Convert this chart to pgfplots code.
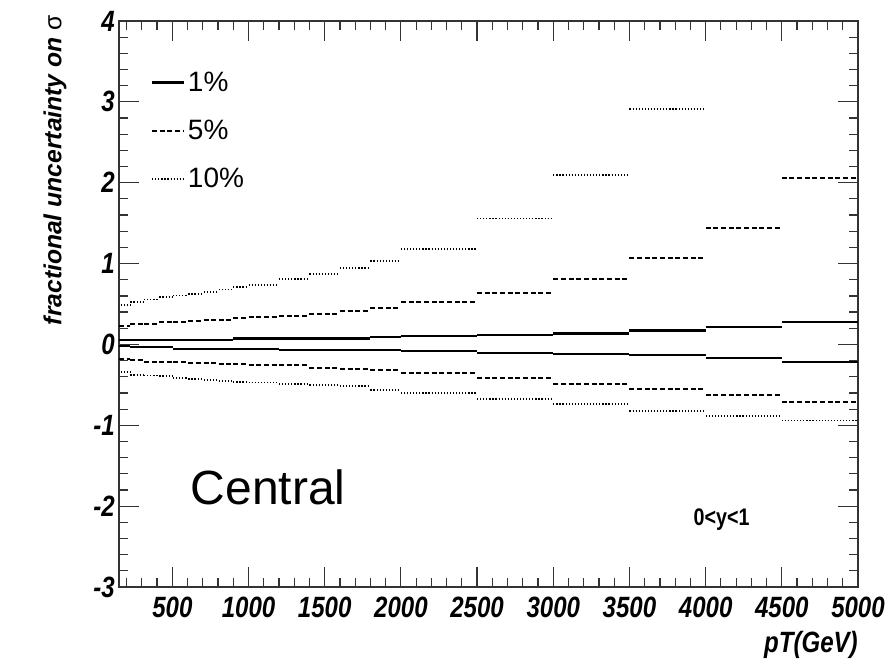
\documentclass[border=0pt]{standalone}
\usepackage{fontspec}
\setmainfont{Liberation Sans}
\newfontfamily\condfont[FakeStretch=0.82]{Liberation Sans}
\usepackage{pgfplots}
\pgfplotsset{compat=1.18}
\begin{document}
\begin{tikzpicture}[x=1pt,y=1pt]
\useasboundingbox (-89.25,-54.75) rectangle (582,440.25);
\begin{axis}[at={(0,0)}, anchor=south west, scale only axis,
  width=554.25pt, height=424.5pt,
  xmin=150, xmax=5000, ymin=-3, ymax=4,
  xtick={500,1000,...,5000},
  xticklabels={500,1000,1500,2000,2500,3000,3500,4000,4500,5000},
  ytick={-3,-2,-1,0,1,2,3,4},
  yticklabels={-3,-2,-1,0,1,2,3,4},
  minor xtick={200,300,...,4900},
  minor ytick={-2.8,-2.6,-2.4,-2.2,-1.8,-1.6,-1.4,-1.2,-0.8,-0.6,-0.4,-0.2,0.2,0.4,0.6,0.8,1.2,1.4,1.6,1.8,2.2,2.4,2.6,2.8,3.2,3.4,3.6,3.8},
  tick align=inside, major tick length=15pt, minor tick length=7pt,
  tick style={black!80, line width=0.9pt},
  axis line style={line width=1pt, black!80},
  xticklabel style={font=\condfont\fontsize{22}{22}\selectfont\bfseries\itshape, inner sep=0pt, yshift=-7.5pt},
  yticklabel style={font=\condfont\fontsize{22}{22}\selectfont\bfseries\itshape, inner sep=0pt, xshift=-3pt},
  xlabel={pT(GeV)},
  xlabel style={font=\condfont\fontsize{22}{22}\selectfont\bfseries\itshape, at={(axis description cs:1,-0.1025)}, anchor=east, inner sep=0pt},
  ylabel={fractional uncertainty on {\mdseries\upshape σ}},
  ylabel style={font=\fontsize{18.5}{18.5}\selectfont\bfseries\itshape, at={(axis description cs:-0.0866,1.0106)}, anchor=east, inner sep=0pt},
  legend style={draw=none, fill=none, at={(axis cs:332,3.44)}, anchor=north west,
    font=\fontsize{21}{21}\selectfont, row sep=16pt, nodes={inner sep=2pt}},
  legend cell align=left,
  legend image code/.code={\draw[#1] (0pt,0pt) -- (24pt,0pt);},
]
\addlegendimage{black, line width=1.7pt}
\addlegendentry{1\%}
\addlegendimage{black, line width=1.5pt, dash pattern=on 3.75pt off 2pt}
\addlegendentry{5\%}
\addlegendimage{black, line width=1.4pt, dash pattern=on 0.9pt off 1.4pt}
\addlegendentry{10\%}
% 1% upper
\addplot[forget plot, jump mark left, black, line width=1.7pt] coordinates {
(100,0.055)(225,0.055)(315,0.055)(415,0.055)(505,0.055)(605,0.055)(705,0.055)(805,0.055)(900,0.072)
(1000,0.072)(1200,0.072)(1400,0.072)(1600,0.072)(1800,0.088)(2000,0.105)(2500,0.121)(3000,0.134)(3500,0.171)(4000,0.217)(4500,0.274)(5000,0.274)};
% 1% lower
\addplot[forget plot, jump mark left, black, line width=1.7pt] coordinates {
(100,-0.023)(225,-0.035)(315,-0.035)(415,-0.035)(505,-0.052)(605,-0.052)(705,-0.052)(805,-0.052)(900,-0.052)
(1000,-0.052)(1200,-0.069)(1400,-0.069)(1600,-0.069)(1800,-0.069)(2000,-0.085)(2500,-0.106)(3000,-0.118)(3500,-0.135)(4000,-0.168)(4500,-0.217)(5000,-0.217)};
% 5% upper
\addplot[forget plot, jump mark left, black, line width=1.5pt, dash pattern=on 3.75pt off 2pt] coordinates {
(100,0.233)(225,0.254)(315,0.254)(415,0.274)(505,0.274)(605,0.291)(705,0.307)(805,0.307)(900,0.323)
(1000,0.336)(1200,0.348)(1400,0.382)(1600,0.419)(1800,0.452)(2000,0.522)(2500,0.638)(3000,0.815)(3500,1.072)(4000,1.435)(4500,2.055)(5000,2.055)};
% 5% lower
\addplot[forget plot, jump mark left, black, line width=1.5pt, dash pattern=on 3.75pt off 2pt] coordinates {
(100,-0.176)(225,-0.192)(315,-0.217)(415,-0.217)(505,-0.217)(605,-0.234)(705,-0.234)(805,-0.246)(900,-0.246)
(1000,-0.254)(1200,-0.260)(1400,-0.296)(1600,-0.300)(1800,-0.321)(2000,-0.353)(2500,-0.415)(3000,-0.486)(3500,-0.552)(4000,-0.630)(4500,-0.717)(5000,-0.717)};
% 10% upper
\addplot[forget plot, jump mark left, black, line width=1.4pt, dash pattern=on 0.9pt off 1.4pt] coordinates {
(100,0.485)(225,0.527)(315,0.555)(415,0.584)(505,0.605)(605,0.626)(705,0.646)(805,0.679)(900,0.708)
(1000,0.732)(1200,0.805)(1400,0.874)(1600,0.948)(1800,1.036)(2000,1.185)(2500,1.557)(3000,2.095)(3500,2.910)(4000,4.500)(4500,6.000)(5000,6.000)};
% 10% lower
\addplot[forget plot, jump mark left, black, line width=1.4pt, dash pattern=on 0.9pt off 1.4pt] coordinates {
(100,-0.345)(225,-0.378)(315,-0.385)(415,-0.395)(505,-0.410)(605,-0.428)(705,-0.435)(805,-0.449)(900,-0.460)
(1000,-0.470)(1200,-0.486)(1400,-0.505)(1600,-0.519)(1800,-0.565)(2000,-0.597)(2500,-0.672)(3000,-0.737)(3500,-0.820)(4000,-0.882)(4500,-0.940)(5000,-0.940)};
\node[anchor=base west, inner sep=0pt, font=\fontsize{36}{36}\selectfont] at (axis cs:620,-1.985) {Central};
\node[anchor=west, inner sep=0pt, font=\condfont\fontsize{18}{18}\selectfont\bfseries] at (axis cs:3920,-2.17) {0<y<1};
\end{axis}
\end{tikzpicture}
\end{document}
